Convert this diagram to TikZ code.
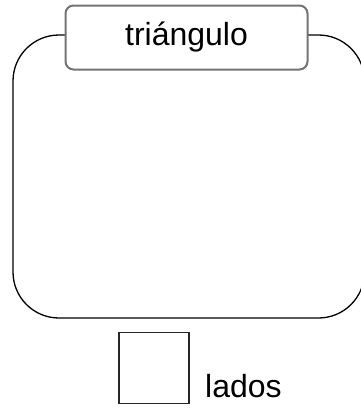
\documentclass[tikz,border=0pt]{standalone}
\usepackage{fontspec}
\setmainfont{Liberation Sans}
\usetikzlibrary{positioning}

\begin{document}
\begin{tikzpicture}[
        x=1pt,
        y=-1pt,
        every node/.style={font=\fontsize{32}{36}\selectfont},
        frame/.style={
            draw,
            line width=1.3pt,
            rounded corners=46pt,
            minimum width=351.5pt,
            minimum height=283pt,
            inner sep=0pt
        },
        title/.style={
            draw=black!55,
            fill=white,
            line width=2pt,
            rounded corners=8pt,
            minimum width=242pt,
            minimum height=64pt,
            inner sep=0pt
        },
        sidebox/.style={
            draw=black!85,
            line width=1.2pt,
            minimum width=70pt,
            minimum height=71pt,
            inner sep=0pt
        }
    ]
    \useasboundingbox (0,0) rectangle (360,408);

    % triangle frame with its name
    \node[frame] (tri) at (188.75,176.5) {};
    \node[title] (name) at (186.5,37.5) {triángulo};

    % sides
    \node[sidebox] (side) at (154,368) {};
    \node[anchor=base west, inner sep=0pt] (sidename) at (205,397) {lados};

    \end{tikzpicture}
\end{document}
